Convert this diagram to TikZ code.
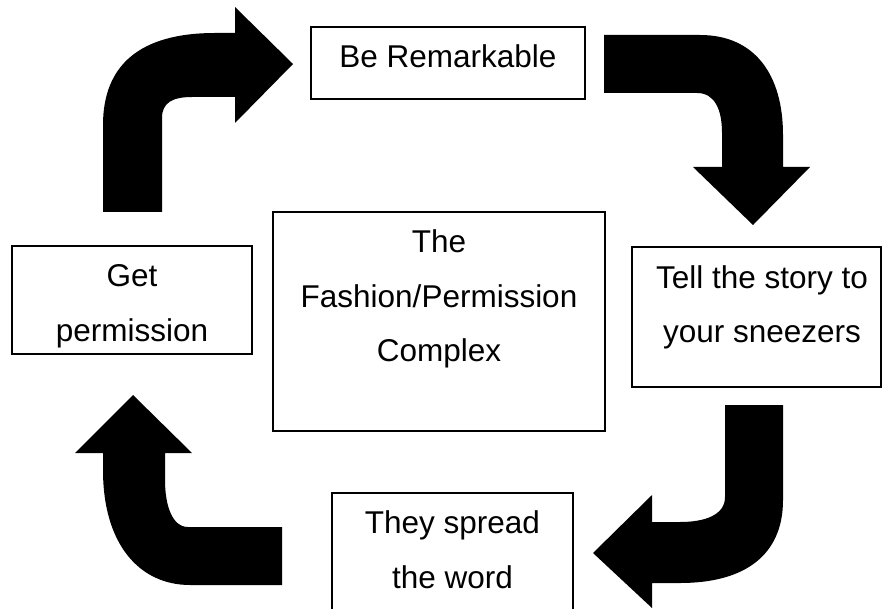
\documentclass[tikz,border=0pt]{standalone}
\usepackage{fontspec}
\setmainfont{Liberation Sans}
\begin{document}
\begin{tikzpicture}[x=1pt,y=-1pt,
  stepbox/.style={draw=black, line width=1.2pt, fill=white, inner sep=0pt},
  steptext/.style={anchor=north, align=center, inner sep=0pt,
    font=\fontsize{31.5}{54.5}\selectfont},
  bigarrow/.style={fill=black}]
\newcommand{\firstline}{\rule{0pt}{41pt}}
\clip (0,0) rectangle (882,609);

% curved block arrows of the cycle
\fill[bigarrow] (103,212) -- (103,125) .. controls (103,65) and (140,33) .. (215,33)
  -- (235,33) -- (235,7) -- (293,64) -- (235,123) -- (235,97) -- (192,97)
  .. controls (172,97) and (162,103) .. (162,118) -- (162,212) -- cycle;
\fill[bigarrow] (604,35) -- (700,35) .. controls (755,35) and (783,75) .. (783,135)
  -- (783,167) -- (810,167) -- (753,225) -- (693,167) -- (722,167) -- (722,133)
  .. controls (722,110) and (715,93) .. (697,93) -- (604,93) -- cycle;
\fill[bigarrow] (725,405) -- (783,405) -- (783,500) .. controls (783,555) and (745,583) .. (680,583)
  -- (652,583) -- (652,608) -- (593,553) -- (652,495) -- (652,522) -- (680,522)
  .. controls (705,522) and (725,515) .. (725,497) -- cycle;
\fill[bigarrow] (282,527) -- (282,585) -- (190,585) .. controls (140,585) and (103,545) .. (103,470)
  -- (103,453) -- (75,453) -- (133,395) -- (192,453) -- (165,453) -- (165,480)
  .. controls (165,505) and (172,527) .. (188,527) -- cycle;

% boxes
\node[stepbox, minimum width=274pt, minimum height=72pt] (rem) at (448,63) {};
\node[stepbox, minimum width=332pt, minimum height=219pt] (fash) at (439,321.5) {};
\node[stepbox, minimum width=240pt, minimum height=108pt] (perm) at (132,300) {};
\node[stepbox, minimum width=249pt, minimum height=140pt] (tell) at (756.5,317) {};
\node[stepbox, minimum width=241pt, minimum height=127pt] (spread) at (452.5,556.5) {};

% box texts
\node[steptext] (remtxt) at (rem.north) {\firstline Be Remarkable};
\node[steptext] (fashtxt) at (fash.north) {\firstline The\\Fashion/Permission\\Complex};
\node[steptext] (permtxt) at (perm.north) {\firstline Get\\permission};
\node[steptext] (telltxt) at (762,247) {\firstline Tell the story to\\your sneezers};
\node[steptext] (spreadtxt) at (spread.north) {\firstline They spread\\the word};
\end{tikzpicture}
\end{document}
